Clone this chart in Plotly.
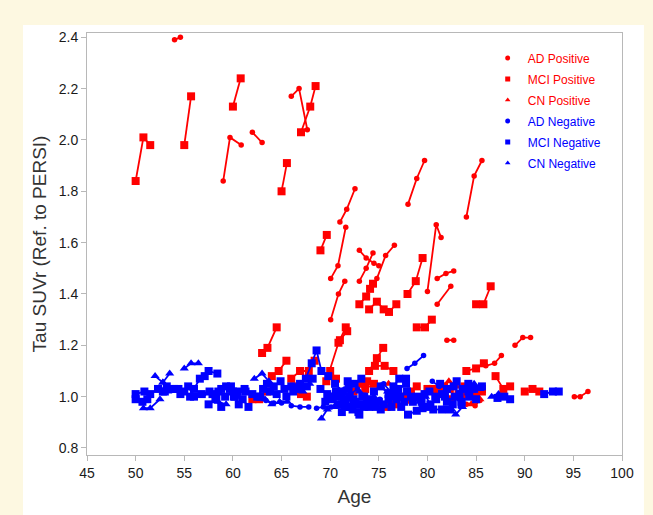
import plotly.graph_objects as go

# ---------------- data (age, Tau SUVr) per subject ----------------
ad_pos_age = [[54.0, 54.6], [59.0, 59.7, 60.85], [62.0, 63.0], [66.0, 66.8, 67.65],
              [70.05, 70.8, 71.6], [71.0, 71.7, 72.55], [70.05, 70.85, 71.5],
              [73.0, 73.7, 74.5, 75.0], [73.0, 73.7, 74.4], [74.8, 75.7, 76.6],
              [78.0, 78.9, 79.7], [80.0, 80.9, 81.4], [81.0, 81.9, 82.7], [81.0, 82.4],
              [84.0, 84.8, 85.6], [82.0, 82.7], [89.0, 89.8, 90.6], [86.0, 86.9, 87.6],
              [95.1, 95.7, 96.5], [84.0, 84.9, 85.4]]
ad_pos_suvr = [[2.39, 2.40], [1.84, 2.01, 1.98], [2.03, 1.99], [2.17, 2.20, 2.04],
               [1.46, 1.51, 1.66], [1.68, 1.73, 1.81], [1.30, 1.40, 1.45],
               [1.57, 1.54, 1.52, 1.51], [1.45, 1.50, 1.56], [1.46, 1.55, 1.59],
               [1.75, 1.85, 1.92], [1.41, 1.67, 1.62], [1.46, 1.48, 1.49], [1.36, 1.43],
               [1.70, 1.86, 1.92], [1.22, 1.22], [1.20, 1.23, 1.23], [1.12, 1.13, 1.16],
               [1.00, 1.00, 1.02], [0.97, 0.965, 0.985]]

mci_pos_age = [[50.0, 50.8, 51.5], [55.0, 55.7], [60.0, 60.8], [65.0, 65.55],
               [67.0, 67.95, 68.5], [69.0, 69.65], [73.0, 73.7, 74.1, 74.4],
               [74.0, 74.8, 75.5, 76.05, 76.8], [77.95, 78.8, 79.5], [78.9, 79.75, 80.45],
               [85.0, 85.75, 86.5], [63.0, 63.55, 64.5], [64.0, 64.7, 65.5],
               [74.0, 74.8, 75.45], [74.6, 75.6, 76.5], [84.0, 85.0, 85.8],
               [87.0, 87.8, 88.5], [90.0, 90.8, 91.5], [62.0, 62.7, 63.5],
               [66.0, 66.9, 67.8, 68.4], [66.3, 67.0, 67.6], [69.6, 70.85, 71.6],
               [71.0, 71.75], [70.0, 70.6], [72.4, 73.2, 73.8], [75.8, 76.6],
               [77.5, 78.3, 78.9], [80.0, 80.6, 81.3], [81.0, 81.7, 82.3],
               [84.0, 84.6, 85.6], [85.0, 85.6], [82.5, 83.2, 83.8], [73.6, 74.5]]
mci_pos_suvr = [[1.84, 2.01, 1.98], [1.98, 2.17], [2.13, 2.24], [1.80, 1.91],
                [2.03, 2.13, 2.21], [1.57, 1.63], [1.36, 1.39, 1.42, 1.44],
                [1.34, 1.37, 1.34, 1.33, 1.36], [1.40, 1.45, 1.54], [1.27, 1.27, 1.30],
                [1.36, 1.36, 1.43], [1.17, 1.19, 1.27], [1.08, 1.10, 1.14],
                [1.10, 1.15, 1.19], [1.12, 1.12, 1.10], [1.10, 1.11, 1.13],
                [1.08, 1.03, 1.04], [1.02, 1.03, 1.02], [0.99, 0.99, 1.02],
                [1.07, 1.10, 1.10, 1.14], [1.04, 1.01, 1.00], [1.06, 1.21, 1.27],
                [1.22, 1.255], [1.10, 1.07], [1.02, 1.05, 1.06], [0.96, 0.97],
                [1.00, 1.02, 1.04], [1.03, 1.03, 1.02], [1.03, 1.04, 1.03],
                [1.01, 1.02, 1.03], [1.00, 1.02], [0.99, 1.01, 1.04], [1.03, 1.05]]

cn_pos_age = [[75.2, 76.0], [77.3, 78.0], [82.2, 83.0], [84.5, 85.4]]
cn_pos_suvr = [[1.04, 1.05], [1.00, 0.98], [1.06, 1.04], [0.97, 0.99]]

ad_neg_age = [[63.4, 64.2, 65.0], [66.0, 66.9, 67.8], [68.6, 69.3, 70.1],
              [77.9, 78.7, 79.6], [75.5, 76.2], [57.0, 57.6], [71.5, 72.1, 72.8],
              [80.5, 81.2], [73.8, 74.4, 75.1]]
ad_neg_suvr = [[0.985, 0.975, 0.975], [0.965, 0.96, 0.96], [0.955, 0.96, 0.96],
               [1.11, 1.13, 1.16], [1.05, 1.02], [1.01, 1.02], [1.03, 1.01, 1.03],
               [1.06, 1.04], [0.98, 0.97, 0.99]]

mci_neg_age = [[50.0, 50.9, 51.5], [50.0, 50.7, 51.2], [52.8, 53.6, 54.4], [53.2, 54.0],
               [54.6, 55.4, 56.0], [56.0, 56.6, 57.1, 57.5, 58.4], [56.8, 57.6, 58.3],
               [57.9, 58.8, 59.7, 60.4], [57.5, 58.2, 58.8], [59.2, 60.0, 60.6],
               [59.8, 60.5, 61.2], [60.2, 61.0, 61.6], [61.3, 62.0, 62.8],
               [58.5, 59.3, 60.1], [63.5, 64.2, 64.9], [64.5, 65.3, 66.0],
               [65.5, 66.2, 66.9], [67.5, 68.1, 68.6, 69.1, 69.8], [67.0, 67.6, 68.2],
               [69.0, 69.7, 70.3], [69.5, 70.2, 70.8, 71.4], [70.5, 71.3, 71.9],
               [71.5, 72.2, 72.9], [71.8, 72.5, 73.2], [72.0, 72.6, 73.3],
               [72.3, 73.0, 73.5], [73.5, 74.3, 75.0], [74.5, 75.2, 76.0],
               [75.5, 76.3, 76.8], [76.5, 77.1, 77.8], [77.2, 77.9, 78.5],
               [78.0, 78.9, 79.5], [79.0, 79.7, 80.3], [80.2, 80.8, 81.5],
               [80.6, 81.5, 82.3], [81.3, 82.0, 82.7], [82.0, 82.8, 83.5],
               [83.0, 83.6, 84.2], [84.2, 84.8, 85.6], [87.2, 87.9, 88.5],
               [92.0, 92.9, 93.5], [74.0, 74.6, 75.2], [76.0, 76.7, 77.3],
               [70.0, 70.6, 71.2], [62.5, 63.1, 63.8], [52.3, 53.0], [55.0, 55.6],
               [70.8, 71.6, 72.4], [73.2, 73.9, 74.7], [76.8, 77.6, 78.3],
               [79.4, 80.1, 80.9], [81.8, 82.6, 83.3], [83.5, 84.3, 85.0],
               [71.2, 71.9, 72.7], [77.0, 77.8]]
mci_neg_suvr = [[1.01, 1.02, 1.01], [0.99, 0.98, 0.99], [1.02, 1.03, 1.03], [1.04, 1.03],
                [1.01, 1.04, 1.00], [1.03, 1.07, 1.08, 1.10, 1.09], [1.01, 1.02, 1.00],
                [1.01, 1.03, 1.03, 1.01], [0.97, 0.99, 0.96], [1.00, 1.02, 0.97],
                [1.04, 1.02, 1.03], [1.00, 0.99, 0.96], [1.02, 1.01, 1.00],
                [1.02, 1.04, 1.00], [1.05, 1.04, 1.06], [1.01, 1.03, 1.04],
                [1.00, 1.02, 1.05], [1.07, 1.13, 1.18, 1.10, 1.08], [1.03, 1.04, 1.07],
                [1.03, 1.01, 1.00], [0.98, 1.00, 0.97, 0.99], [1.05, 1.02, 1.03],
                [0.96, 0.96, 0.94], [1.06, 1.05, 1.07], [1.00, 0.98, 1.00],
                [0.95, 0.93, 0.96], [1.00, 0.97, 0.98], [1.02, 1.04, 1.01],
                [0.97, 0.96, 0.99], [1.04, 1.07, 1.07], [1.00, 1.02, 0.98],
                [0.93, 0.945, 0.955], [1.00, 1.01, 0.97], [1.02, 1.00, 1.01],
                [0.95, 0.95, 0.95], [1.05, 1.03, 1.04], [0.98, 1.00, 0.97],
                [1.06, 1.03, 1.05], [1.02, 1.03, 1.04], [0.995, 1.00, 0.99],
                [1.01, 1.02, 1.02], [0.96, 0.98, 0.95], [0.99, 1.00, 0.96],
                [0.99, 1.02, 1.00], [1.00, 1.03, 1.02], [1.03, 1.02], [1.02, 1.00],
                [1.00, 0.98, 0.99], [0.97, 0.99, 0.96], [1.01, 0.98, 1.00],
                [0.98, 0.96, 0.99], [1.00, 0.97, 1.01], [0.98, 1.00, 0.99],
                [0.94, 0.96, 0.97], [1.03, 1.05]]

cn_neg_age = [[50.8, 51.5, 52.5], [52.0, 52.8, 53.5], [52.8, 53.3], [55.0, 55.7, 56.45],
              [62.2, 63.0, 63.7], [63.3, 64.0, 64.8, 65.6], [69.1, 69.7, 70.4],
              [73.0, 73.8, 74.5], [75.2, 75.9, 76.5], [82.5, 82.9, 83.6],
              [84.0, 84.8, 85.4], [58.5, 59.3], [66.5, 67.2, 67.9], [78.5, 79.2, 79.8],
              [86.6, 87.3], [71.0, 71.7]]
cn_neg_suvr = [[0.955, 0.955, 0.99], [1.08, 1.055, 1.09], [1.055, 1.02], [1.11, 1.13, 1.13],
               [1.07, 1.09, 1.06], [0.99, 0.97, 0.98, 0.98], [0.915, 0.95, 0.96],
               [1.02, 0.99, 1.00], [1.04, 1.02, 1.03], [0.95, 0.93, 0.96],
               [1.04, 1.05, 1.03], [0.98, 0.97], [1.04, 1.02, 1.05], [0.99, 0.98, 1.00],
               [1.00, 1.01], [1.01, 0.99]]

x_ticks = [45, 50, 55, 60, 65, 70, 75, 80, 85, 90, 95, 100]
y_ticks = [0.8, 1.0, 1.2, 1.4, 1.6, 1.8, 2.0, 2.2, 2.4]

RED = "#ff0000"
BLUE = "#0000ff"

groups = [
    ("AD Positive", ad_pos_age, ad_pos_suvr, RED, "circle", 5.5),
    ("MCI Positive", mci_pos_age, mci_pos_suvr, RED, "square", 8),
    ("CN Positive", cn_pos_age, cn_pos_suvr, RED, "triangle-up", 8),
    ("AD Negative", ad_neg_age, ad_neg_suvr, BLUE, "circle", 5.5),
    ("MCI Negative", mci_neg_age, mci_neg_suvr, BLUE, "square", 8),
    ("CN Negative", cn_neg_age, cn_neg_suvr, BLUE, "triangle-up", 8),
]

fig = go.Figure()
for name, ages, vals, col, sym, size in groups:
    for a, v in zip(ages, vals):
        fig.add_trace(go.Scatter(
            x=a, y=v, mode="lines+markers", showlegend=False,
            line=dict(color=col, width=1.8),
            marker=dict(color=col, symbol=sym, size=size),
            hoverinfo="x+y"))

for i, (name, ages, vals, col, sym, size) in enumerate(groups):
    fig.add_trace(go.Scatter(
        x=[None], y=[None], mode="markers",
        name=f'<span style="color:{col}">{name}</span>',
        legendgroup=f"g{i}",
        marker=dict(color=col, symbol=sym, size=5)))

fig.update_layout(
    width=653, height=515,
    margin=dict(l=87, r=31, t=33, b=60),
    paper_bgcolor="#fdf8e1",
    plot_bgcolor="#ffffff",
    font=dict(family="Liberation Sans, Arial, sans-serif", color="#222222"),
    shapes=[dict(type="rect", xref="paper", yref="paper",
                 x0=-0.1196, x1=1.041, y0=-0.16, y1=1.019,
                 fillcolor="#ffffff", line=dict(width=0), layer="below")],
    legend=dict(x=0.749, xanchor="left", y=0.975, yanchor="top",
                bgcolor="rgba(0,0,0,0)", borderwidth=0,
                font=dict(size=12, family="Liberation Sans, Arial, sans-serif"),
                traceorder="grouped", tracegroupgap=2),
)
fig.update_xaxes(range=[45, 100], tickvals=x_ticks, showgrid=False, zeroline=False,
                 showline=True, mirror=True, linecolor="#b8b8b8", linewidth=1,
                 ticks="outside", ticklen=5, tickcolor="#b8b8b8",
                 tickfont=dict(size=14, color="#1a1a1a"),
                 title=dict(text="Age", font=dict(size=19, color="#333333"), standoff=9))
fig.update_yaxes(range=[0.7727, 2.4167], tickvals=y_ticks, tickformat=".1f",
                 showgrid=False, zeroline=False,
                 showline=True, mirror=True, linecolor="#b8b8b8", linewidth=1,
                 ticks="outside", ticklen=5, tickcolor="#b8b8b8",
                 tickfont=dict(size=14, color="#1a1a1a"),
                 title=dict(text="Tau SUVr (Ref. to PERSI)", font=dict(size=19, color="#333333"),
                            standoff=7))

fig.write_html("out.html")
